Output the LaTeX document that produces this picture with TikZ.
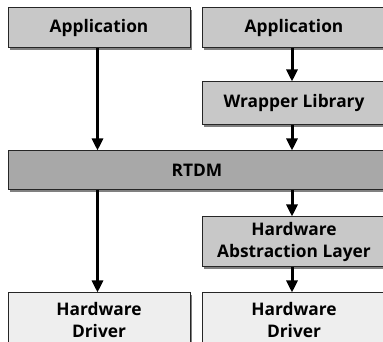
\documentclass[tikz,border=0pt]{standalone}
\usepackage{fontspec}
\setmainfont{Open Sans}
\usetikzlibrary{shadows,arrows.meta}
\definecolor{boxgray}{HTML}{C8C8C8}
\definecolor{coregray}{HTML}{A8A8A8}
\definecolor{drvgray}{HTML}{EEEEEE}
\definecolor{shadegray}{HTML}{808080}
\begin{document}
\begin{tikzpicture}[x=0.75pt,y=-0.75pt,
  box/.style={draw=black!85, line width=0.75pt, rectangle, inner sep=0pt,
    align=center, font=\bfseries\fontsize{13}{16.5}\selectfont,
    drop shadow={shadow xshift=1.5pt, shadow yshift=-1.5pt, fill=shadegray, opacity=1}},
  narrow/.style={box, minimum width=136.5pt},
  wide/.style={box, minimum width=138pt},
  arr/.style={line width=2.25pt, -{Triangle[width=8.25pt,length=9pt]}}]
\useasboundingbox (0,0) rectangle (383,342);
% column axes for the connectors
\coordinate (colL) at (97.5,0);
\coordinate (colR) at (292,0);
% boxes
\node[narrow, fill=boxgray, minimum height=30pt] (app1) at (99,28) {Application};
\node[wide, fill=boxgray, minimum height=30pt] (app2) at (294,28) {Application};
\node[wide, fill=boxgray, minimum height=32.25pt] (wrap) at (294,103.5) {Wrapper Library};
\node[box, fill=coregray, minimum width=283.5pt, minimum height=29.25pt] (rtdm) at (197,170.5) {RTDM};
\node[wide, fill=boxgray, minimum height=37.5pt] (hal) at (294,242) {Hardware\\Abstraction Layer};
\node[narrow, fill=drvgray, minimum height=41.25pt] (drv1) at (99,320.5) {Hardware\\Driver};
\node[wide, fill=drvgray, minimum height=41.25pt] (drv2) at (294,320.5) {Hardware\\Driver};
% connectors
\draw[arr] (app1.south -| colL) -- (rtdm.north -| colL);
\draw[arr] (rtdm.south -| colL) -- (drv1.north -| colL);
\draw[arr] (app2.south -| colR) -- (wrap.north -| colR);
\draw[arr] (wrap.south -| colR) -- (rtdm.north -| colR);
\draw[arr] (rtdm.south -| colR) -- (hal.north -| colR);
\draw[arr] (hal.south -| colR) -- (drv2.north -| colR);
\end{tikzpicture}
\end{document}
